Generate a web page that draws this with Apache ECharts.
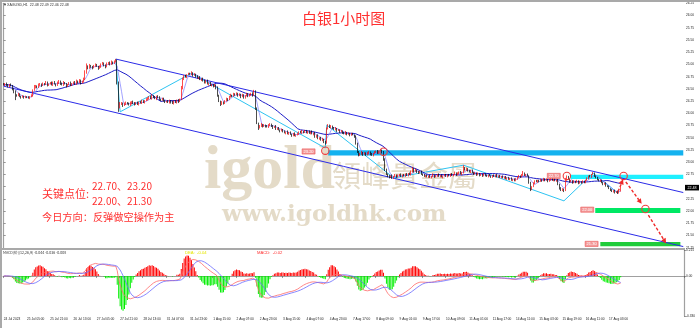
<!DOCTYPE html>
<html><head><meta charset="utf-8">
<script src="https://cdn.jsdelivr.net/npm/echarts@6/dist/echarts.min.js"></script>
<style>html,body{margin:0;padding:0;background:#fff}#c{width:700px;height:328px}</style>
</head><body><div id="c"></div>
<script>
// ---------- data ----------
const tickLabels = ['24 Jul 2023','25 Jul 05:00','25 Jul 21:00','26 Jul 13:00','27 Jul 05:00','27 Jul 21:00','28 Jul 13:00','31 Jul 07:00','31 Jul 23:00','1 Aug 15:00','2 Aug 07:00','2 Aug 23:00','3 Aug 15:00','4 Aug 07:00','4 Aug 23:00','7 Aug 17:00','8 Aug 09:00','9 Aug 01:00','9 Aug 17:00','10 Aug 09:00','11 Aug 01:00','11 Aug 17:00','14 Aug 11:00','15 Aug 03:00','15 Aug 19:00','16 Aug 11:00','17 Aug 03:00'];
const barsPerTick = 16;
const slotCount = 468;
const firstOpen = 24.60;
const closes = [
24.58,24.61,24.57,24.55,24.59,24.56,24.50,24.45,24.38,24.36,24.39,24.35,24.33,24.35,24.32,24.34,
24.33,24.31,24.34,24.36,24.47,24.54,24.56,24.53,24.58,24.60,24.57,24.61,24.59,24.63,24.58,24.60,
24.62,24.59,24.64,24.60,24.57,24.62,24.66,24.61,24.58,24.63,24.60,24.56,24.59,24.62,24.58,24.61,
24.64,24.60,24.66,24.63,24.68,24.62,24.65,24.70,24.84,24.96,24.92,24.98,24.95,24.93,24.97,24.99,
24.96,24.92,24.95,25.00,25.03,24.98,24.95,25.01,25.04,25.00,25.05,25.02,25.06,25.08,24.62,24.12,
24.18,24.21,24.16,24.19,24.22,24.20,24.17,24.21,24.24,24.20,24.18,24.22,24.19,24.23,24.21,24.25,
24.22,24.26,24.28,24.31,24.34,24.30,24.36,24.33,24.30,24.35,24.32,24.29,24.27,24.30,24.26,24.24,
24.25,24.22,24.26,24.23,24.20,24.25,24.22,24.27,24.24,24.29,24.52,24.70,24.76,24.74,24.79,24.81,
24.80,24.83,24.78,24.80,24.75,24.72,24.74,24.69,24.71,24.66,24.63,24.67,24.60,24.62,24.57,24.59,
24.55,24.58,24.52,24.36,24.25,24.18,24.22,24.20,24.26,24.30,24.28,24.34,24.37,24.35,24.40,24.38,
24.41,24.36,24.39,24.34,24.37,24.32,24.36,24.40,24.35,24.38,24.41,24.37,24.45,24.10,23.80,23.70,
23.74,23.77,23.73,23.76,23.74,23.72,23.75,23.78,23.74,23.71,23.73,23.68,23.70,23.66,23.64,23.67,
23.63,23.60,23.62,23.58,23.61,23.57,23.55,23.58,23.54,23.56,23.58,23.62,23.60,23.63,23.61,23.64,
23.60,23.63,23.59,23.62,23.58,23.60,23.52,23.55,23.48,23.50,23.45,23.47,23.42,23.40,23.68,23.74,
23.71,23.74,23.70,23.67,23.69,23.65,23.66,23.62,23.64,23.60,23.58,23.61,23.57,23.59,23.55,23.58,
23.56,23.52,23.38,23.22,23.14,23.17,23.20,23.16,23.19,23.15,23.18,23.21,23.17,23.14,23.18,23.20,
23.22,23.19,23.23,23.25,23.21,23.05,22.85,22.76,22.72,22.69,22.72,22.68,22.71,22.74,22.70,22.73,
22.75,22.71,22.74,22.72,22.76,22.73,22.77,22.75,22.80,22.86,22.82,22.84,22.80,22.78,22.81,22.76,
22.74,22.71,22.73,22.70,22.72,22.69,22.71,22.74,22.70,22.72,22.75,22.71,22.73,22.70,22.72,22.74,
22.71,22.74,22.72,22.76,22.73,22.75,22.78,22.74,22.77,22.80,22.76,22.79,22.88,22.84,22.86,22.82,
22.80,22.83,22.79,22.76,22.78,22.74,22.77,22.73,22.75,22.72,22.76,22.73,22.71,22.74,22.72,22.70,
22.73,22.71,22.74,22.70,22.72,22.69,22.71,22.68,22.70,22.66,22.68,22.65,22.67,22.63,22.65,22.62,
22.66,22.69,22.72,22.70,22.74,22.77,22.73,22.75,22.72,22.58,22.45,22.50,22.57,22.62,22.60,22.63,
22.61,22.64,22.62,22.66,22.63,22.65,22.61,22.64,22.67,22.63,22.65,22.62,22.64,22.55,22.47,22.43,
22.45,22.42,22.64,22.70,22.65,22.60,22.62,22.58,22.61,22.59,22.62,22.57,22.60,22.58,22.61,22.59,
22.63,22.67,22.72,22.70,22.75,22.77,22.72,22.68,22.65,22.62,22.63,22.58,22.55,22.57,22.52,22.50,
22.46,22.43,22.40,22.42,22.38,22.40,22.37,22.41,22.48];
// wick beyond the candle body, in cents
const wickUp = [
2,1,2,3,1,2,2,1,2,1,3,2,1,2,1,2, 1,2,1,3,2,4,2,1,3,2,1,2,1,3,2,1,
2,3,1,2,1,3,2,1,2,3,1,2,1,2,3,1, 1,2,3,1,2,1,2,3,4,6,2,3,1,2,2,3,
2,1,3,2,2,1,2,3,1,2,3,1,2,3,2,3, 5,2,1,3,2,1,2,3,1,2,3,1,2,1,2,3,
2,1,3,2,1,2,3,1,2,1,2,3,1,2,2,1, 1,2,2,1,3,1,2,1,2,1,4,3,2,3,1,2,
2,3,1,2,1,3,1,2,1,2,3,1,2,1,2,1, 1,2,1,3,2,1,3,2,1,2,1,2,3,1,2,1,
2,1,2,1,3,2,1,2,1,2,1,2,3,2,2,1, 2,3,1,2,1,2,3,2,1,2,1,3,1,2,1,2,
1,2,1,3,1,2,1,2,3,1,2,1,2,3,1,2, 2,1,2,1,3,1,2,1,2,1,2,3,1,2,3,4,
3,2,1,2,3,1,2,1,2,1,2,3,1,2,1,2, 2,1,3,2,1,2,3,1,2,1,3,2,1,2,1,3,
2,3,1,2,1,2,3,2,1,2,1,3,1,2,1,2, 1,2,1,2,1,2,1,2,3,4,2,3,1,2,1,2,
1,2,1,2,1,2,1,3,1,2,1,2,1,2,1,2, 2,1,2,1,2,1,3,1,2,1,2,1,6,2,3,2,
2,1,2,1,2,1,2,1,2,1,2,1,2,1,2,1, 1,2,1,2,1,2,1,2,1,2,1,2,1,2,1,2,
2,1,2,1,2,5,2,1,2,1,2,1,2,1,2,1, 1,2,1,2,1,2,1,2,1,2,1,2,1,2,1,2,
2,1,4,3,2,1,2,1,2,1,2,1,2,1,2,1, 1,2,1,2,1,3,2,1,2,1,2,1,2,1,2,1,
2,1,2,1,2,1,2,1,2];
const wickDn = [
1,2,1,2,2,1,3,4,11,2,1,2,3,1,2,1, 2,1,2,1,2,1,3,2,1,2,3,1,2,1,3,2,
1,2,3,1,2,1,2,3,1,2,1,3,2,1,2,2, 2,1,2,2,1,3,1,2,2,3,2,1,2,3,1,2,
1,3,1,2,1,2,3,1,2,2,1,2,1,2,3,9, 2,1,3,1,2,2,1,2,3,1,2,1,2,3,1,2,
1,2,1,2,3,1,2,2,1,3,1,2,2,1,2,3, 2,1,2,3,1,2,1,2,3,1,2,3,2,1,2,1,
1,2,3,1,2,1,2,1,3,1,2,2,1,3,1,2, 2,1,3,2,2,3,1,2,1,2,3,1,2,2,1,2,
1,2,1,3,1,2,2,1,2,1,2,3,1,3,2,4, 1,2,2,1,3,1,2,1,2,3,1,2,2,1,3,1,
2,1,3,1,2,1,3,2,1,2,1,2,1,2,2,1, 1,2,1,2,1,3,2,2,1,2,1,2,3,4,2,1,
1,2,2,1,2,3,1,2,1,2,1,2,2,1,2,1, 1,2,2,3,2,1,2,3,1,2,1,2,3,1,2,1,
1,2,2,1,3,2,3,2,3,2,1,2,2,1,2,1, 2,1,2,1,2,1,2,1,2,1,3,1,2,2,1,2,
2,1,2,1,2,1,2,1,2,1,2,1,2,1,3,1, 1,2,1,2,1,2,1,2,1,2,1,2,2,1,2,1,
1,2,1,2,1,2,1,2,1,2,1,2,1,2,1,2, 2,1,2,1,2,1,2,1,2,1,2,1,2,1,2,1,
1,2,1,2,1,2,1,2,1,2,4,2,1,2,1,2, 2,1,2,1,2,1,2,1,2,1,2,1,2,2,3,2,
2,3,1,2,1,2,1,2,1,2,1,2,1,2,1,2, 2,1,2,1,2,1,2,1,2,1,2,1,2,1,2,1,
1,2,1,2,2,1,2,1,1];
// trend channel and wave lines: [bar index, price]
const channelUpper = [[77,25.11],[467,22.38]];
const channelLower = [[0,24.555],[467,21.275]];
const waveLine = [[77,25.11],[80,24.03],[129,24.82],[221,23.29],[222,23.76],[268,22.68],[316,22.94],[385,22.21],[405,22.78],[422,22.37]];
// key levels: [start bar, end bar, price]
const keyBands = [[223,467,23.19],[389.5,467,22.70],[406.5,465,22.015],[410,465,21.325]];
const levelTags = [[209.5,23.22,'23.20'],[378,22.72,'22.70'],[401,22.03,'22.00'],[404,21.33,'21.30']];
const circles = [[221,23.236],[261,23.215],[387,22.72],[426,22.72],[441,22.043]];
const arrows = [[422.2,22.40,425.6,22.65],[427.5,22.60,438.4,22.15],[443,21.92,455.2,21.34]];
const maFast = 5, maSlow = 30;
const macdFast = 12, macdSlow = 26, macdSignal = 9;

// ---------- derived ----------
const cats = Array.from({length:slotCount},(_,i)=>i);
const ohlc = []; let prev = firstOpen;
closes.forEach((c,i)=>{ const o=prev; ohlc.push([o,c,+(Math.min(o,c)-wickDn[i]/100).toFixed(2),+(Math.max(o,c)+wickUp[i]/100).toFixed(2)]); prev=c; });
function sma(a,n){return a.map((_,i)=>{const s=Math.max(0,i-n+1);let t=0;for(let k=s;k<=i;k++)t+=a[k];return t/(i-s+1);});}
function ema(a,n){const k=2/(n+1);let e=a[0];return a.map((v,i)=>{e=i?k*v+(1-k)*e:v;return e;});}
const eF=ema(closes,macdFast), eS=ema(closes,macdSlow);
const dif=eF.map((v,i)=>v-eS[i]);
const dea=sma(dif,macdSignal);
const hist=dif.map((v,i)=>2*(v-dea[i]));

const bandColors=['#14b2ef','#1ff0ff','#00e864','#20cc3a'];
const bandHalf=[2.6,2.2,2.5,2.2];
const wm='#e4dbc8';

const chart = echarts.init(document.getElementById('c'), null, {renderer:'canvas'});
const lab = {fontSize:3.2,color:'#222',fontFamily:'Liberation Sans'};
const isTick = (i)=>i%barsPerTick===0&&i/barsPerTick<tickLabels.length;
const r4 = v=>+v.toFixed(4);
chart.setOption({
  animation:false,
  backgroundColor:'#fff',
  grid:[{left:3,top:3.3,width:681,height:244.5},{left:3,top:250,width:681,height:66}],
  xAxis:[
    {type:'category',gridIndex:0,data:cats,boundaryGap:true,axisLine:{show:false},axisTick:{show:false},axisLabel:{show:false},splitLine:{show:false}},
    {type:'category',gridIndex:1,data:cats,boundaryGap:true,
      axisLine:{show:true,lineStyle:{color:'#a0a0a0',width:1}},
      axisTick:{show:true,length:2,interval:isTick,lineStyle:{color:'#555',width:0.6}},
      axisLabel:Object.assign({interval:isTick,formatter:(v,i)=>tickLabels[i/barsPerTick]||'',margin:2,align:'left'},lab),
      splitLine:{show:false}},
    {type:'value',gridIndex:0,min:-0.5,max:slotCount-0.5,show:false}
  ],
  yAxis:[
    {type:'value',gridIndex:0,position:'right',min:21.25,max:26.25,interval:0.25,
      axisLine:{show:true,lineStyle:{color:'#a0a0a0',width:1.2}},axisTick:{show:true,length:2,lineStyle:{color:'#555',width:0.6}},
      axisLabel:Object.assign({margin:2,formatter:v=>v.toFixed(2)},lab),splitLine:{show:false}},
    {type:'value',gridIndex:1,position:'right',min:-0.33,max:0.215,
      axisLine:{show:true,lineStyle:{color:'#a0a0a0',width:1.2}},
      axisTick:{show:true,length:2,customValues:[-0.33,0,0.215],lineStyle:{color:'#555',width:0.6}},
      axisLabel:Object.assign({margin:2,customValues:[-0.33,0,0.215],formatter:v=>v===0?'0.00':v.toFixed(3)},lab),splitLine:{show:false}}
  ],
  series:[
    {type:'custom',xAxisIndex:2,yAxisIndex:0,silent:true,z:1,data:keyBands,
      renderItem:(p,api)=>{const i=p.dataIndex;const a=api.coord([api.value(0),api.value(2)]);const b=api.coord([api.value(1),api.value(2)]);
        return {type:'rect',shape:{x:a[0],y:a[1]-bandHalf[i],width:b[0]-a[0],height:bandHalf[i]*2},style:{fill:bandColors[i]}};}},
    {type:'line',xAxisIndex:2,yAxisIndex:0,data:channelUpper,symbol:'none',silent:true,lineStyle:{color:'#2b2be8',width:1},z:3},
    {type:'line',xAxisIndex:2,yAxisIndex:0,data:channelLower,symbol:'none',silent:true,lineStyle:{color:'#2b2be8',width:1},z:3},
    {type:'line',xAxisIndex:2,yAxisIndex:0,data:waveLine,symbol:'none',silent:true,lineStyle:{color:'#2ec4f2',width:1},z:3},
    {type:'line',xAxisIndex:0,yAxisIndex:0,data:sma(closes,maSlow).map(r4),symbol:'none',silent:true,lineStyle:{color:'#1d1dc8',width:1},z:3},
    {type:'line',xAxisIndex:0,yAxisIndex:0,data:sma(closes,maFast).map(r4),symbol:'none',silent:true,lineStyle:{color:'#7a7aff',width:0.7},z:3},
    {type:'candlestick',xAxisIndex:0,yAxisIndex:0,data:ohlc,barWidth:1,z:4,
      itemStyle:{color:'#ff0000',color0:'#000000',borderColor:'#ff0000',borderColor0:'#000000',borderWidth:0.7}},
    {type:'custom',xAxisIndex:2,yAxisIndex:0,silent:true,z:6,data:circles,
      renderItem:(p,api)=>{const c=api.coord([api.value(0),api.value(1)]);return {type:'circle',shape:{cx:c[0],cy:c[1],r:3.7},style:{fill:null,stroke:'#f03c3c',lineWidth:1.1}};}},
    {type:'custom',xAxisIndex:2,yAxisIndex:0,silent:true,z:6,data:levelTags.map(t=>[t[0],t[1]]),
      renderItem:(p,api)=>{const c=api.coord([api.value(0),api.value(1)]);const t=levelTags[p.dataIndex][2];
        return {type:'group',children:[{type:'rect',shape:{x:c[0]-6.5,y:c[1]-2.6,width:13,height:5.2},style:{fill:'#f39a9a',stroke:'#e84545',lineWidth:0.5}},
          {type:'text',style:{text:t,x:c[0],y:c[1]+0.2,align:'center',verticalAlign:'middle',fill:'#fff',font:'4px "Liberation Sans"'}}]};}},
    {type:'custom',xAxisIndex:2,yAxisIndex:0,silent:true,z:7,data:arrows,
      renderItem:(p,api)=>{const p0=api.coord([api.value(0),api.value(1)]),p1=api.coord([api.value(2),api.value(3)]);
        const dx=p1[0]-p0[0],dy=p1[1]-p0[1],L=Math.hypot(dx,dy),ux=dx/L,uy=dy/L,hs=5,hw=2.6,bx=p1[0]-ux*hs,by=p1[1]-uy*hs;
        return {type:'group',children:[{type:'line',shape:{x1:p0[0],y1:p0[1],x2:bx,y2:by},style:{stroke:'#f02828',lineWidth:1.4,lineDash:[3,2]}},
          {type:'polygon',shape:{points:[[p1[0],p1[1]],[bx-uy*hw,by+ux*hw],[bx+uy*hw,by-ux*hw]]},style:{fill:'#f02828'}}]};}},
    {type:'bar',xAxisIndex:1,yAxisIndex:1,barWidth:1,silent:true,data:hist.map(v=>({value:r4(v),itemStyle:{color:v>=0?'#ff0000':'#00ee00'}}))},
    {type:'line',xAxisIndex:1,yAxisIndex:1,data:dif.map(r4),symbol:'none',silent:true,lineStyle:{color:'#ff6a6a',width:0.8},z:5},
    {type:'line',xAxisIndex:1,yAxisIndex:1,data:dea.map(r4),symbol:'none',silent:true,lineStyle:{color:'#6a6aff',width:0.8},z:5}
  ],
  graphic:[
    {id:'wm1',type:'text',z:0,style:{text:'igold',x:204,y:172,align:'left',verticalAlign:'middle',font:'bold 62px "Liberation Serif"',fill:wm}},
    {id:'wm2',type:'text',z:0,style:{text:'領峰貴金屬',x:332,y:176,align:'left',verticalAlign:'middle',font:'29px "Noto Sans CJK TC"',fill:wm}},
    {id:'wm3',type:'text',z:0,style:{text:'www.igoldhk.com',x:222,y:215,align:'left',verticalAlign:'middle',font:'bold 23px "DejaVu Serif"',fill:wm}},
    {id:'b1',type:'rect',z:50,shape:{x:0,y:0,width:700,height:2},style:{fill:'#a9a9a9'}},
    {id:'b2',type:'rect',z:50,shape:{x:0,y:0,width:2,height:328},style:{fill:'#a9a9a9'}},
    {id:'b3',type:'rect',z:50,shape:{x:2,y:248,width:683,height:2},style:{fill:'#a9a9a9'}},
    {id:'t1',type:'text',z:60,style:{text:'▾ XAGUSD,H1  22.48 22.49 22.46 22.48',x:4,y:5,verticalAlign:'middle',font:'3.6px "Liberation Sans"',fill:'#333'}},
    {id:'t2',type:'text',z:60,style:{text:'MACD(价)(12,26,9) -0.044 -0.036 -0.008',x:3,y:252.5,verticalAlign:'middle',font:'3.6px "Noto Sans CJK SC"',fill:'#333'}},
    {id:'t3',type:'text',z:60,style:{text:'DEA:  -0.04',x:185,y:252.5,verticalAlign:'middle',font:'4.2px "Liberation Sans"',fill:'#e6e600'}},
    {id:'t4',type:'text',z:60,style:{text:'MACD:  -0.02',x:257,y:252.5,verticalAlign:'middle',font:'4.2px "Liberation Sans"',fill:'#ff3030'}},
    {id:'t5',type:'text',z:60,style:{text:'白银1小时图',x:302,y:18.5,verticalAlign:'middle',font:'15px "Noto Sans CJK SC"',fill:'#ff3030'}},
    {id:'t6',type:'text',z:60,style:{text:'关键点位:',x:42,y:193.5,verticalAlign:'middle',font:'11px "Noto Sans CJK SC"',fill:'#ff3030'}},
    {id:'t7',type:'text',z:60,style:{text:'22.70、23.20',x:92,y:186.5,verticalAlign:'middle',font:'10px "Noto Sans CJK SC"',fill:'#ff3030'}},
    {id:'t8',type:'text',z:60,style:{text:'22.00、21.30',x:92,y:201,verticalAlign:'middle',font:'10px "Noto Sans CJK SC"',fill:'#ff3030'}},
    {id:'t9',type:'text',z:60,style:{text:'今日方向：反弹做空操作为主',x:42,y:217.5,verticalAlign:'middle',font:'10.2px "Noto Sans CJK SC"',fill:'#ff3030'}}
  ]
});
// current price box on the price axis
const lastClose = closes[closes.length-1];
const py = chart.convertToPixel({xAxisIndex:2,yAxisIndex:0}, [0,lastClose])[1];
chart.setOption({graphic:[
  {id:'pbox',type:'rect',z:70,shape:{x:685,y:py-2.8,width:14,height:5.6},style:{fill:'#000'}},
  {id:'ptxt',type:'text',z:71,style:{text:lastClose.toFixed(2),x:692,y:py,align:'center',verticalAlign:'middle',font:'3.6px "Liberation Sans"',fill:'#fff'}}]});
</script></body></html>
